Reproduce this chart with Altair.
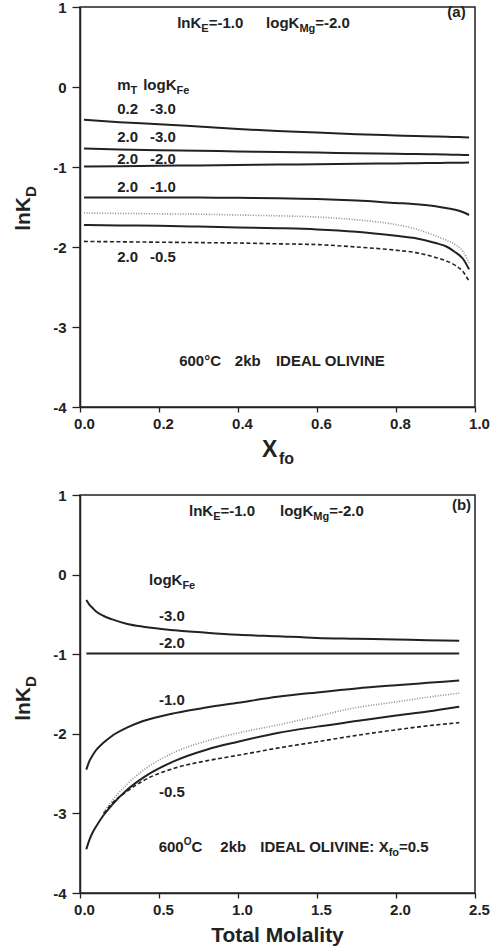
import altair as alt
import pandas as pd

FONT = "Liberation Sans"
INK = "#222222"
W, H_A, H_B = 395, 400, 398

# ---- panel (a): lnK_D against X_fo ----
xfo = [0.01, 0.1, 0.2, 0.3, 0.4, 0.5, 0.6, 0.7, 0.8, 0.85, 0.9, 0.93, 0.95, 0.97, 0.985]
a_m02_k30 = [-0.41, -0.44, -0.465, -0.495, -0.525, -0.55, -0.57, -0.59, -0.605, -0.612, -0.618, -0.622, -0.625, -0.628, -0.63]
a_m20_k30 = [-0.77, -0.78, -0.79, -0.797, -0.805, -0.812, -0.82, -0.827, -0.835, -0.838, -0.842, -0.845, -0.847, -0.849, -0.85]
a_m20_k20 = [-0.995, -0.99, -0.985, -0.98, -0.975, -0.97, -0.965, -0.96, -0.955, -0.953, -0.95, -0.948, -0.947, -0.946, -0.945]
a_m20_k10 = [-1.38, -1.38, -1.38, -1.382, -1.385, -1.39, -1.40, -1.42, -1.45, -1.465, -1.49, -1.515, -1.535, -1.565, -1.60]
a_dotted = [-1.575, -1.58, -1.585, -1.59, -1.60, -1.61, -1.625, -1.66, -1.72, -1.775, -1.86, -1.92, -1.97, -2.06, -2.20]
a_m20_k05 = [-1.725, -1.73, -1.735, -1.745, -1.755, -1.765, -1.78, -1.81, -1.86, -1.89, -1.95, -2.0, -2.065, -2.15, -2.28]
a_dashed = [-1.93, -1.935, -1.94, -1.945, -1.95, -1.96, -1.97, -2.0, -2.04, -2.07, -2.13, -2.18, -2.23, -2.31, -2.43]

# ---- panel (b): lnK_D against total molality at X_fo = 0.5 ----
molality = [0.04, 0.06, 0.08, 0.1, 0.15, 0.2, 0.3, 0.4, 0.6, 0.8, 1.0, 1.25, 1.5, 1.75, 2.0, 2.2, 2.4]
b_k30 = [-0.32, -0.38, -0.42, -0.46, -0.52, -0.56, -0.62, -0.655, -0.70, -0.73, -0.755, -0.775, -0.795, -0.805, -0.815, -0.825, -0.83]
b_k20 = [-0.99, -0.99, -0.99, -0.99, -0.99, -0.99, -0.99, -0.99, -0.99, -0.99, -0.99, -0.99, -0.99, -0.99, -0.99, -0.99, -0.99]
b_k10 = [-2.45, -2.34, -2.27, -2.21, -2.11, -2.03, -1.92, -1.84, -1.74, -1.67, -1.61, -1.535, -1.48, -1.43, -1.39, -1.36, -1.33]
b_k05 = [-3.45, -3.33, -3.24, -3.17, -3.02, -2.90, -2.70, -2.55, -2.34, -2.20, -2.10, -1.99, -1.91, -1.84, -1.77, -1.72, -1.66]
molality_tail = [0.15, 0.2, 0.3, 0.4, 0.6, 0.8, 1.0, 1.25, 1.5, 1.75, 2.0, 2.2, 2.4]
b_dotted = [-2.99, -2.85, -2.63, -2.46, -2.23, -2.09, -1.99, -1.89, -1.78, -1.67, -1.60, -1.54, -1.49]
b_dashed = [-3.0, -2.88, -2.72, -2.59, -2.43, -2.34, -2.27, -2.18, -2.10, -2.02, -1.95, -1.90, -1.86]

x_ticks_a = [0.0, 0.2, 0.4, 0.6, 0.8, 1.0]
x_ticks_b = [0.0, 0.5, 1.0, 1.5, 2.0, 2.5]
y_ticks = [-4, -3, -2, -1, 0, 1]

# Arial/Liberation Sans Bold advance widths (per 1000 em) for laying out sub/superscripts
ADV = {" ": 278, "\u00a0": 278, "(": 333, ")": 333, "-": 333, ".": 278, "=": 584, ":": 333,
       "\u00b0": 400, "A": 722, "C": 722, "D": 722, "E": 667, "I": 278, "K": 722, "L": 611,
       "M": 833, "N": 722, "O": 778, "T": 611, "V": 667, "X": 667, "a": 556, "b": 611,
       "e": 556, "f": 333, "g": 611, "i": 278, "k": 556, "l": 278, "m": 889, "n": 611, "o": 611}
SIZE = {"m": 15, "s": 11, "p": 10}
SHIFT = {"m": 0, "s": 4, "p": -7}


def run(x0, y0, pieces, xspan, yspan, h):
    """Lay out a run of normal / subscript / superscript pieces starting at (x0, y0)."""
    rows, cx = [], 0.0
    for txt, role in pieces:
        size = SIZE[role]
        rows.append({"x": x0 + cx * xspan / W, "y": y0 - SHIFT[role] * yspan / h,
                     "t": txt, "size": size})
        cx += sum(ADV.get(c, 556) for c in txt) / 1000 * size
    return rows


def labels_a():
    r = []
    sp = (1.0, 5.0, H_A)
    r += run(0.246, 0.74, [("lnK", "m"), ("E", "s"), ("=-1.0", "m")], *sp)
    r += run(0.471, 0.74, [("logK", "m"), ("Mg", "s"), ("=-2.0", "m")], *sp)
    r += run(0.930, 0.875, [("(a)", "m")], *sp)
    r += run(0.094, -0.035, [("m", "m"), ("T", "s")], *sp)
    r += run(0.160, -0.035, [("logK", "m"), ("Fe", "s")], *sp)
    for mt, kfe, yy in [("0.2", "-3.0", -0.34), ("2.0", "-3.0", -0.69), ("2.0", "-2.0", -0.962),
                        ("2.0", "-1.0", -1.316), ("2.0", "-0.5", -2.19)]:
        r += run(0.094, yy, [(mt, "m")], *sp)
        r += run(0.177, yy, [(kfe, "m")], *sp)
    r += run(0.251, -3.49, [("600\u00b0C", "m")], *sp)
    r += run(0.392, -3.49, [("2kb", "m")], *sp)
    r += run(0.496, -3.49, [("IDEAL OLIVINE", "m")], *sp)
    return pd.DataFrame(r)


def labels_b():
    r = []
    sp = (2.5, 5.0, H_B)
    r += run(0.69, 0.73, [("lnK", "m"), ("E", "s"), ("=-1.0", "m")], *sp)
    r += run(1.266, 0.73, [("logK", "m"), ("Mg", "s"), ("=-2.0", "m")], *sp)
    r += run(2.354, 0.81, [("(b)", "m")], *sp)
    r += run(0.437, -0.13, [("logK", "m"), ("Fe", "s")], *sp)
    for kfe, yy in [("-3.0", -0.58), ("-2.0", -0.926), ("-1.0", -1.638), ("-0.5", -2.80)]:
        r += run(0.50, yy, [(kfe, "m")], *sp)
    r += run(0.498, -3.48, [("600", "m"), ("O", "p"), ("C", "m")], *sp)
    r += run(0.888, -3.48, [("2kb", "m")], *sp)
    r += run(1.141, -3.48, [("IDEAL OLIVINE:\u00a0", "m"), ("X", "m"), ("fo", "s"), ("=0.5", "m")], *sp)
    return pd.DataFrame(r)


def frame(xs, ys):
    return pd.DataFrame({"x": xs, "y": ys})


def panel(x_enc, y_enc, solid, dotted, dashed, labels, ytitle_y, xtitle_layers, h):
    one = pd.DataFrame({"k": [0]})
    layers = []
    for df in solid:
        layers.append(alt.Chart(df).mark_line(color=INK, strokeWidth=2, interpolate="monotone")
                      .encode(x=x_enc, y=y_enc))
    for df in dotted:
        layers.append(alt.Chart(df).mark_line(color="#8c8c8c", strokeWidth=1.6, interpolate="monotone",
                                              strokeDash=[1, 1.6]).encode(x=x_enc, y=y_enc))
    for df in dashed:
        layers.append(alt.Chart(df).mark_line(color=INK, strokeWidth=1.6, interpolate="monotone",
                                              strokeDash=[4, 2.5]).encode(x=x_enc, y=y_enc))
    layers.append(
        alt.Chart(labels).mark_text(align="left", baseline="alphabetic", font=FONT,
                                    fontWeight="bold", color=INK)
        .encode(x=x_enc, y=y_enc, text="t:N", size=alt.Size("size:Q", scale=None))
    )
    # rotated y title lnK_D
    layers.append(alt.Chart(one).mark_text(angle=270, align="right", baseline="alphabetic",
                                           font=FONT, fontWeight="bold", fontSize=21, color=INK)
                  .encode(x=alt.value(-50), y=alt.value(ytitle_y), text=alt.value("lnK")))
    layers.append(alt.Chart(one).mark_text(angle=270, align="left", baseline="alphabetic",
                                           font=FONT, fontWeight="bold", fontSize=15, color=INK)
                  .encode(x=alt.value(-44), y=alt.value(ytitle_y), text=alt.value("D")))
    for txt, px, py, fs, al in xtitle_layers:
        layers.append(alt.Chart(one).mark_text(align=al, baseline="alphabetic", font=FONT,
                                               fontWeight="bold", fontSize=fs, color=INK)
                      .encode(x=alt.value(px), y=alt.value(py), text=alt.value(txt)))
    return alt.layer(*layers).properties(width=W, height=h)


def axes(ticks):
    return alt.Axis(values=ticks, format=".1f", title=None, tickSize=5, labelPadding=4,
                    labelOffset=4, labelFlush=False, labelOverlap=False)


y_axis = alt.Axis(values=y_ticks, title=None, tickSize=8, labelPadding=6,
                  labelExpr="datum.value + ''", labelOverlap=False)

xa = alt.X("x:Q", scale=alt.Scale(domain=[0, 1], nice=False, zero=False), axis=axes(x_ticks_a))
ya = alt.Y("y:Q", scale=alt.Scale(domain=[-4, 1], nice=False, zero=False), axis=y_axis)
xb = alt.X("x:Q", scale=alt.Scale(domain=[0, 2.5], nice=False, zero=False), axis=axes(x_ticks_b))
yb = alt.Y("y:Q", scale=alt.Scale(domain=[-4, 1], nice=False, zero=False), axis=y_axis)

chart_a = panel(
    xa, ya,
    [frame(xfo, a_m02_k30), frame(xfo, a_m20_k30), frame(xfo, a_m20_k20),
     frame(xfo, a_m20_k10), frame(xfo, a_m20_k05)],
    [frame(xfo, a_dotted)],
    [frame(xfo, a_dashed)],
    labels_a(), 190,
    [("X", 182, 450, 23, "left"), ("fo", 199, 457, 16, "left")],
    H_A,
)

chart_b = panel(
    xb, yb,
    [frame(molality, b_k30), frame(molality, b_k20), frame(molality, b_k10), frame(molality, b_k05)],
    [frame(molality_tail, b_dotted)],
    [frame(molality_tail, b_dashed)],
    labels_b(), 192,
    [("Total Molality", W / 2, 447, 21, "center")],
    H_B,
)

chart = (
    alt.vconcat(chart_a, chart_b, spacing=19)
    .properties(padding={"left": 12, "top": -1, "right": 5, "bottom": 0}, background="white")
    .configure_view(stroke=INK, strokeWidth=1.5)
    .configure_axis(domainColor=INK, domainWidth=1.5, tickColor=INK, tickWidth=1.3,
                    labelFont=FONT, labelFontWeight="bold", labelFontSize=15, labelColor=INK,
                    grid=False)
)

chart.save("out.html", embed_options={"renderer": "svg", "actions": False})
